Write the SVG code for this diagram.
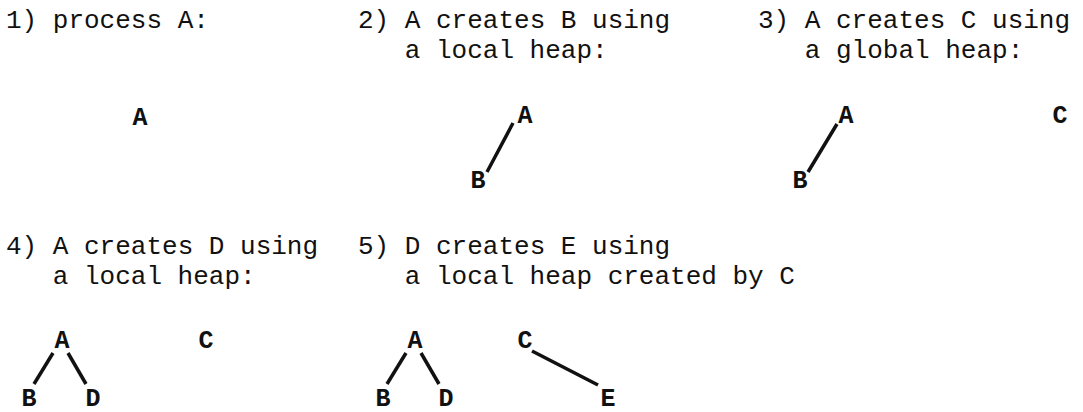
<svg xmlns="http://www.w3.org/2000/svg" width="1083" height="412" viewBox="0 0 1083 412">
<style>
.t{font-family:"Liberation Mono","DejaVu Sans Mono",monospace;font-size:26px;fill:#111;}
.n{font-family:"Liberation Mono","DejaVu Sans Mono",monospace;font-size:25px;font-weight:bold;fill:#111;text-anchor:middle;}
.e{stroke:#111;stroke-width:3.5;fill:none;}
</style>
<rect width="1083" height="412" fill="#fff"/>
<g id="captions">
<text class="t" x="6" y="28">1) process A:</text>
<text class="t" x="358" y="28">2) A creates B using</text>
<text class="t" x="404.8" y="58">a local heap:</text>
<text class="t" x="758" y="28">3) A creates C using</text>
<text class="t" x="804.8" y="58">a global heap:</text>
<text class="t" x="6" y="254">4) A creates D using</text>
<text class="t" x="52.8" y="284">a local heap:</text>
<text class="t" x="358" y="254">5) D creates E using</text>
<text class="t" x="404.8" y="284">a local heap created by C</text>
</g>
<g id="connectors">
<line class="e" x1="513" y1="123" x2="487" y2="172"/>
<line class="e" x1="837" y1="124" x2="808" y2="172"/>
<line class="e" x1="53" y1="353" x2="34" y2="384"/>
<line class="e" x1="68" y1="353" x2="86" y2="384"/>
<line class="e" x1="406" y1="353" x2="387" y2="384"/>
<line class="e" x1="421" y1="353" x2="439" y2="384"/>
<line class="e" x1="532" y1="351" x2="598" y2="385"/>
</g>
<g id="p1-A"><text class="n" x="140" y="125">A</text></g>
<g id="p2-A"><text class="n" x="525" y="123">A</text></g>
<g id="p2-B"><text class="n" x="478" y="188">B</text></g>
<g id="p3-A"><text class="n" x="846" y="123">A</text></g>
<g id="p3-B"><text class="n" x="800" y="188">B</text></g>
<g id="p3-C"><text class="n" x="1060" y="123">C</text></g>
<g id="p4-A"><text class="n" x="62" y="348">A</text></g>
<g id="p4-C"><text class="n" x="206" y="348">C</text></g>
<g id="p4-B"><text class="n" x="29" y="406">B</text></g>
<g id="p4-D"><text class="n" x="93" y="406">D</text></g>
<g id="p5-A"><text class="n" x="415" y="348">A</text></g>
<g id="p5-B"><text class="n" x="383" y="406">B</text></g>
<g id="p5-D"><text class="n" x="446" y="406">D</text></g>
<g id="p5-C"><text class="n" x="525" y="348">C</text></g>
<g id="p5-E"><text class="n" x="608" y="406">E</text></g>
</svg>
